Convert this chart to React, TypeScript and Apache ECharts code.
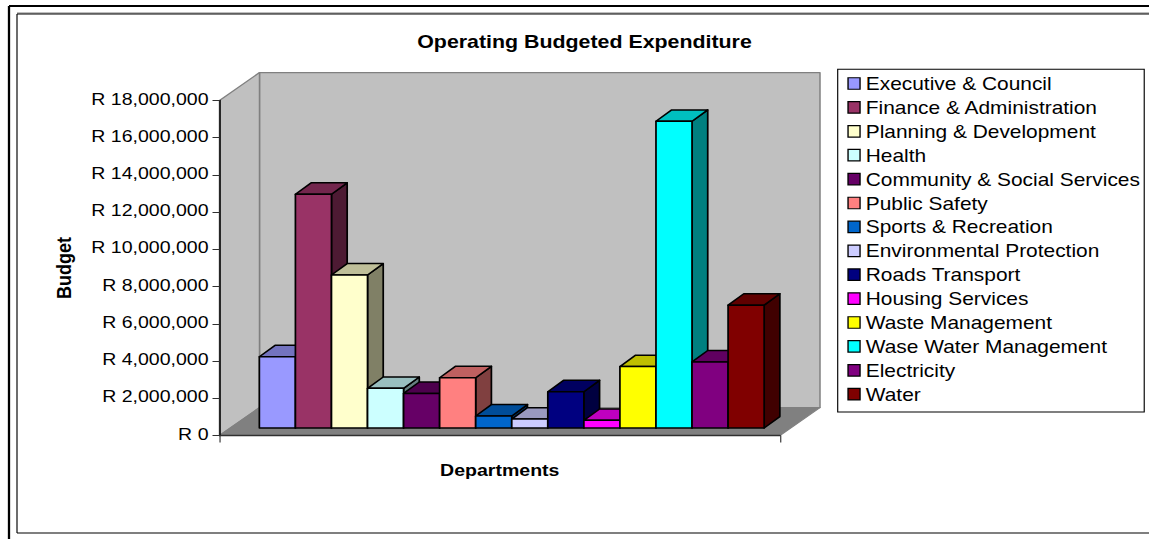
import React, { useEffect, useRef } from "react";
import * as echarts from "echarts";

// Department budgets, in rand
const departments = [
  "Executive & Council",
  "Finance & Administration",
  "Planning & Development",
  "Health",
  "Community & Social Services",
  "Public Safety",
  "Sports & Recreation",
  "Environmental Protection",
  "Roads Transport",
  "Housing Services",
  "Waste Management",
  "Wase Water Management",
  "Electricity",
  "Water",
];
const budgets = [
  3830000, 12560000, 8220000, 2130000, 1860000, 2700000, 645000, 480000,
  1950000, 410000, 3300000, 16480000, 3550000, 6600000,
];
const frontColors = [
  "#9999FF", "#993366", "#FFFFCC", "#CCFFFF", "#660066", "#FF8080", "#0066CC",
  "#CCCCFF", "#000080", "#FF00FF", "#FFFF00", "#00FFFF", "#800080", "#800000",
];
const topColors = [
  "#7373BF", "#73264D", "#BFBF99", "#99BFBF", "#4D004D", "#BF6060", "#004D99",
  "#9999BF", "#000060", "#BF00BF", "#BFBF00", "#00BFBF", "#600060", "#600000",
];
const sideColors = [
  "#4D4D80", "#4D1A33", "#808066", "#668080", "#330033", "#804040", "#003366",
  "#666680", "#000040", "#800080", "#808000", "#008080", "#400040", "#400000",
];
const axisMax = 18000000;
const axisStep = 2000000;

// The drawing is laid out narrower and widened by CSS, which gives the wide lettering
const STRETCH = 1.149;
const WIDTH = 1149 / STRETCH;
const HEIGHT = 539;
const sx = (x: number) => x / STRETCH;

const GRID_LEFT = sx(219.5);
const GRID_WIDTH = sx(560.5);
const GRID_TOP = 100.5;
const GRID_HEIGHT = 335;

// Box depth of the plot room and of each column
const ROOM_DX = sx(40);
const ROOM_DY = 27.9;
const BAR_DX = sx(15.7);
const BAR_DY = 11.4;
const BAR_SHIFT_X = sx(12);
const BAR_SHIFT_Y = 7.5;
const GAP_RATIO = 1.545;

const poly = (points: number[][], fill: string, stroke: string, lineWidth: number) => ({
  type: "polygon",
  shape: { points },
  style: { fill, stroke, lineWidth, lineJoin: "round" },
});

// Side wall, back wall and floor of the room
const renderRoom = (_params: any, api: any) => {
  const base = api.coord([0, 0]);
  const top = api.coord([0, axisMax]);
  const band = api.size([1, 0])[0];
  const x0 = base[0] - band / 2;
  const x1 = base[0] + band / 2;
  const y0 = base[1];
  const y1 = top[1];
  const wall = "#C0C0C0";
  const edge = "#808080";
  return {
    type: "group",
    children: [
      poly(
        [[x0 + ROOM_DX, y1 - ROOM_DY], [x1 + ROOM_DX, y1 - ROOM_DY], [x1 + ROOM_DX, y0 - ROOM_DY], [x0 + ROOM_DX, y0 - ROOM_DY]],
        wall, edge, 1.3,
      ),
      poly(
        [[x0, y1], [x0 + ROOM_DX, y1 - ROOM_DY], [x0 + ROOM_DX, y0 - ROOM_DY], [x0, y0]],
        wall, edge, 1.3,
      ),
      poly(
        [[x0, y0], [x1, y0], [x1 + ROOM_DX, y0 - ROOM_DY], [x0 + ROOM_DX, y0 - ROOM_DY]],
        edge, edge, 1,
      ),
    ],
  };
};

const renderColumn = (index: number) => (_params: any, api: any) => {
  const value = api.value(1);
  const base = api.coord([0, 0]);
  const top = api.coord([0, value]);
  const band = api.size([1, 0])[0];
  const w = band / (departments.length + GAP_RATIO);
  const start = base[0] - (w * departments.length) / 2 + BAR_SHIFT_X;
  const x = start + w * index;
  const yb = base[1] - BAR_SHIFT_Y;
  const yt = top[1] - BAR_SHIFT_Y;
  const line = 1.5;
  return {
    type: "group",
    children: [
      poly(
        [[x + w, yt], [x + w + BAR_DX, yt - BAR_DY], [x + w + BAR_DX, yb - BAR_DY], [x + w, yb]],
        sideColors[index], "#000", line,
      ),
      poly(
        [[x, yt], [x + w, yt], [x + w + BAR_DX, yt - BAR_DY], [x + BAR_DX, yt - BAR_DY]],
        topColors[index], "#000", line,
      ),
      poly([[x, yt], [x + w, yt], [x + w, yb], [x, yb]], frontColors[index], "#000", line),
    ],
  };
};

const frameLine = (x1: number, y1: number, x2: number, y2: number, stroke: string, lineWidth: number) => ({
  type: "line",
  shape: { x1: sx(x1), y1, x2: sx(x2), y2 },
  style: { stroke, lineWidth },
  silent: true,
});

const formatRand = (value: number) => "R " + value.toLocaleString("en-US");

export default function App() {
  const ref = useRef<HTMLDivElement>(null);

  useEffect(() => {
    document.body.style.margin = "0";
    const chart = echarts.init(ref.current!, undefined, { renderer: "svg" });
    chart.setOption({
      animation: false,
      backgroundColor: "#FFFFFF",
      textStyle: { fontFamily: "Liberation Sans" },
      title: {
        text: "Operating Budgeted Expenditure",
        left: sx(584.5),
        top: 32,
        padding: 0,
        textAlign: "center",
        textStyle: { fontFamily: "Liberation Sans", fontSize: 18.6, fontWeight: "bold", color: "#000" },
      },
      grid: { left: GRID_LEFT, top: GRID_TOP, width: GRID_WIDTH, height: GRID_HEIGHT },
      xAxis: {
        type: "category",
        data: [""],
        z: 30,
        name: "Departments",
        nameLocation: "middle",
        nameGap: 26,
        nameTextStyle: { fontFamily: "Liberation Sans", fontSize: 17, fontWeight: "bold", color: "#000" },
        axisLine: { show: true, onZero: false, lineStyle: { color: "#303030", width: 1.3 } },
        axisTick: { show: true, length: 7, lineStyle: { color: "#303030", width: 1 } },
        axisLabel: { show: false },
        splitLine: { show: false },
      },
      yAxis: {
        type: "value",
        min: 0,
        max: axisMax,
        interval: axisStep,
        z: 30,
        name: "Budget",
        nameLocation: "middle",
        nameRotate: 90,
        nameGap: sx(146),
        nameTextStyle: { fontFamily: "Liberation Sans", fontSize: 18, fontWeight: "bold", color: "#000" },
        axisLine: { show: true, onZero: false, lineStyle: { color: "#000", width: 1.3 } },
        axisTick: { show: true, length: sx(7), lineStyle: { color: "#303030", width: 1 } },
        axisLabel: {
          margin: sx(11),
          formatter: formatRand,
          fontFamily: "Liberation Sans",
          fontSize: 17,
          color: "#000",
          verticalAlign: "bottom",
          lineHeight: 4,
        },
        splitLine: { show: false },
      },
      legend: {
        orient: "vertical",
        left: sx(837.7),
        top: 69.3,
        padding: [5.2, 3.8, 8.8, 8.4],
        itemWidth: sx(12),
        itemHeight: 11.5,
        itemGap: 5.9,
        itemStyle: { borderColor: "#000", borderWidth: 1.2 },
        icon: "rect",
        selectedMode: false,
        backgroundColor: "#FFFFFF",
        borderColor: "#000",
        borderWidth: 1,
        borderRadius: 0,
        data: departments,
        textStyle: { fontFamily: "Liberation Sans", fontSize: 18.2, color: "#000", height: 18, lineHeight: 18 },
      },
      graphic: {
        elements: [
          frameLine(9, 6, 1149, 6, "#000", 2),
          frameLine(9, 6, 9, 539, "#000", 2),
          frameLine(17, 13, 1149, 13, "#808080", 1),
          frameLine(17, 14, 1149, 14, "#000", 1),
          frameLine(17, 14, 17, 533, "#000", 1),
          frameLine(17, 533, 1149, 533, "#000", 1.2),
        ],
      },
      series: [
        {
          type: "custom",
          name: "room",
          z: -5,
          silent: true,
          encode: { x: 0, y: 1 },
          renderItem: renderRoom,
          data: [[0, 0]],
        },
        ...departments.map((name, i) => ({
          type: "custom",
          name,
          z: 2 + i,
          silent: true,
          itemStyle: { color: frontColors[i] },
          encode: { x: 0, y: 1 },
          renderItem: renderColumn(i),
          data: [[0, budgets[i]]],
        })),
      ],
    });
    return () => chart.dispose();
  }, []);

  return (
    <div
      ref={ref}
      style={{
        position: "absolute",
        left: 0,
        top: 0,
        width: WIDTH,
        height: HEIGHT,
        transform: `scaleX(${STRETCH})`,
        transformOrigin: "0 0",
      }}
    />
  );
}
